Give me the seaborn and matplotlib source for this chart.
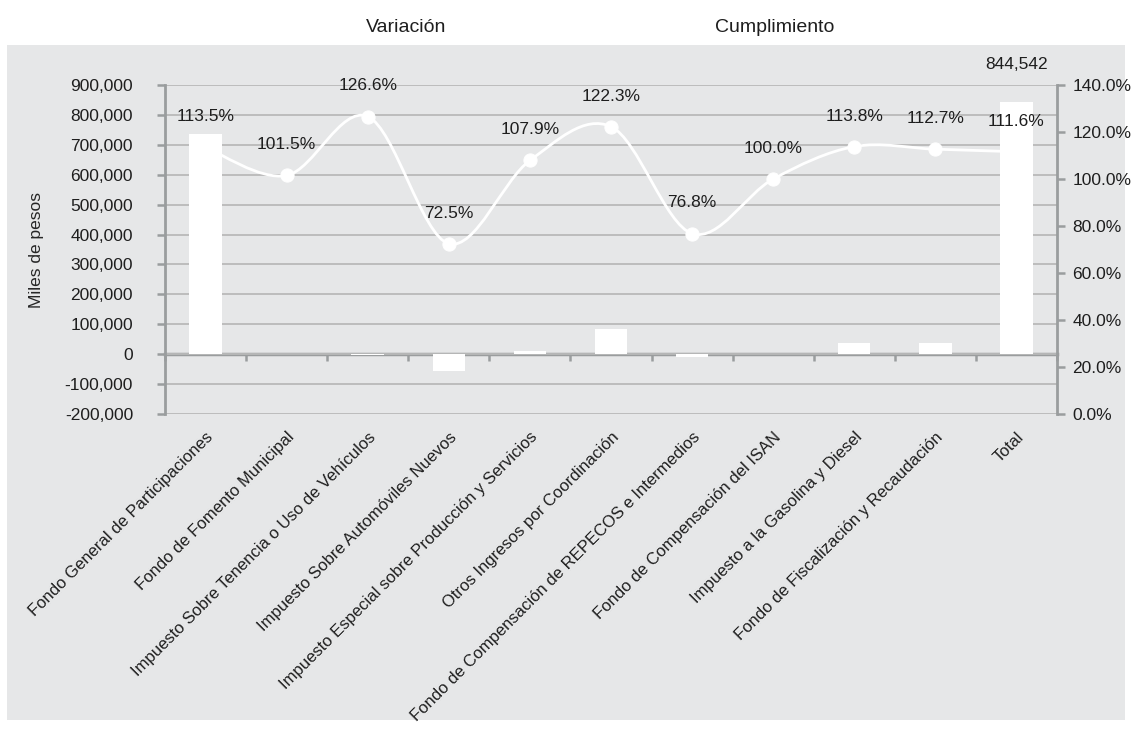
import numpy as np
import matplotlib
matplotlib.use("Agg")
import matplotlib.pyplot as plt
import seaborn as sb
from matplotlib.path import Path
from matplotlib.patches import PathPatch, Patch, Rectangle
from matplotlib.lines import Line2D
from matplotlib.ticker import FuncFormatter

# DATA
#-----------------------
categories = [
    "Fondo General de Participaciones",
    "Fondo de Fomento Municipal",
    "Impuesto Sobre Tenencia o Uso de Vehículos",
    "Impuesto Sobre Automóviles Nuevos",
    "Impuesto Especial sobre Producción y Servicios",
    "Otros Ingresos por Coordinación",
    "Fondo de Compensación de REPECOS e Intermedios",
    "Fondo de Compensación del ISAN",
    "Impuesto a la Gasolina y Diesel",
    "Fondo de Fiscalización y Recaudación",
    "Total",
]
variacion = [735000, 1000, -2000, -56000, 12000, 85000, -9000, 0, 39000, 39000, 844542]
cumplimiento = [113.5, 101.5, 126.6, 72.5, 107.9, 122.3, 76.8, 100.0, 113.8, 112.7, 111.6]
total_label = "844,542"
left_ticks = list(range(-200000, 900001, 100000))
right_ticks = [0, 20, 40, 60, 80, 100, 120, 140]

panel_color = "#e6e7e8"
grid_color = "#b9b9b9"
axis_color = "#9a9d9e"
text_color = "#1e1e1e"

sb.set_style("white")
plt.rcParams["font.family"] = ["Liberation Sans", "DejaVu Sans"]
plt.rcParams["text.color"] = text_color
plt.rcParams["xtick.color"] = text_color
plt.rcParams["ytick.color"] = text_color


# SMOOTH LINE (excel style)
#-----------------------
def smooth_path(xs, ys):
    pts = np.column_stack([xs, ys]).astype(float)
    n = len(pts)
    verts = [pts[0]]
    codes = [Path.MOVETO]
    for i in range(n - 1):
        p0 = pts[max(i - 1, 0)]
        p1 = pts[i]
        p2 = pts[i + 1]
        p3 = pts[min(i + 2, n - 1)]
        verts += [p1 + (p2 - p0) / 6, p2 - (p3 - p1) / 6, p2]
        codes += [Path.CURVE4] * 3
    return Path(verts, codes)


# PLOT
#-----------------------
def make_chart():
    fig = plt.figure(figsize=(11.33, 7.38), dpi=100)
    fig.patches.append(Rectangle((0.006, 0.024), 0.987, 0.915, transform=fig.transFigure,
                                 facecolor=panel_color, edgecolor="none", zorder=-10))

    ax = fig.add_axes([0.1456, 0.439, 0.7873, 0.4458])
    ax.patch.set_visible(False)
    pos = np.arange(len(categories))

    sb.barplot(x=categories, y=variacion, color="white", width=0.4, saturation=1,
               edgecolor="none", ax=ax, zorder=3)
    ax.set_xlim(-0.5, len(categories) - 0.5)
    ax.set_ylim(left_ticks[0], left_ticks[-1])
    ax.set_yticks(left_ticks)
    ax.yaxis.set_major_formatter(FuncFormatter(lambda v, p: f"{v:,.0f}"))
    ax.set_axisbelow(True)
    ax.grid(axis="y", color=grid_color, lw=1.3)
    ax.grid(axis="x", visible=False)
    for s in ["top", "right", "bottom"]:
        ax.spines[s].set_visible(False)
    ax.spines["left"].set_color(axis_color)
    ax.spines["left"].set_linewidth(2)
    ax.tick_params(axis="y", length=6, width=1.8, color=axis_color, pad=17, labelsize=12.5, left=True)
    ax.set_xticks(pos)
    ax.set_xticklabels(categories, rotation=45, ha="right", rotation_mode="anchor", fontsize=12)
    ax.tick_params(axis="x", length=0, pad=11)
    ax.set_ylabel("Miles de pesos", fontsize=12.5, labelpad=15)
    ax.set_xlabel("")

    ax.annotate(total_label, (pos[-1], variacion[-1]), xytext=(0, 27), textcoords="offset points",
                ha="center", va="center", fontsize=12.5)

    # zero line with ticks between categories
    zero = ax.secondary_xaxis(0, transform=ax.transData)
    zero.set_xticks(np.arange(len(categories) + 1) - 0.5)
    zero.set_xticklabels([])
    zero.tick_params(axis="x", length=5, width=1.8, color=axis_color, direction="out")
    zero.spines["bottom"].set_color(axis_color)
    zero.spines["bottom"].set_linewidth(2.5)

    # right axis - cumplimiento
    ax2 = ax.twinx()
    ax2.patch.set_visible(False)
    ax2.set_ylim(right_ticks[0], right_ticks[-1])
    ax2.set_yticks(right_ticks)
    ax2.yaxis.set_major_formatter(FuncFormatter(lambda v, p: f"{v:.1f}%"))
    for s in ["top", "left", "bottom"]:
        ax2.spines[s].set_visible(False)
    ax2.spines["right"].set_color(axis_color)
    ax2.spines["right"].set_linewidth(2)
    ax2.tick_params(axis="y", length=6, width=1.8, color=axis_color, pad=5, labelsize=12.5, right=True)
    ax2.grid(False)

    ax2.add_patch(PathPatch(smooth_path(pos, cumplimiento), facecolor="none", edgecolor="white",
                            lw=2, zorder=4))
    sb.scatterplot(x=pos, y=cumplimiento, color="white", edgecolor="white", s=90, ax=ax2, zorder=5)
    for x, v in zip(pos, cumplimiento):
        ax2.annotate(f"{v:.1f}%", (x, v), xytext=(0, 22), textcoords="offset points",
                     ha="center", va="center", fontsize=12.5, zorder=6)

    handles = [Patch(facecolor="white", edgecolor="none"),
               Line2D([], [], color="white", lw=2, marker="o", markersize=8)]
    fig.legend(handles, ["Variación", "Cumplimiento"], loc="center", bbox_to_anchor=(0.51, 0.963),
               ncol=2, frameon=False, fontsize=14, handlelength=1.5, columnspacing=11.5)

    fig.savefig("out.png", dpi=100, facecolor="white")


if __name__ == "__main__":
    make_chart()
